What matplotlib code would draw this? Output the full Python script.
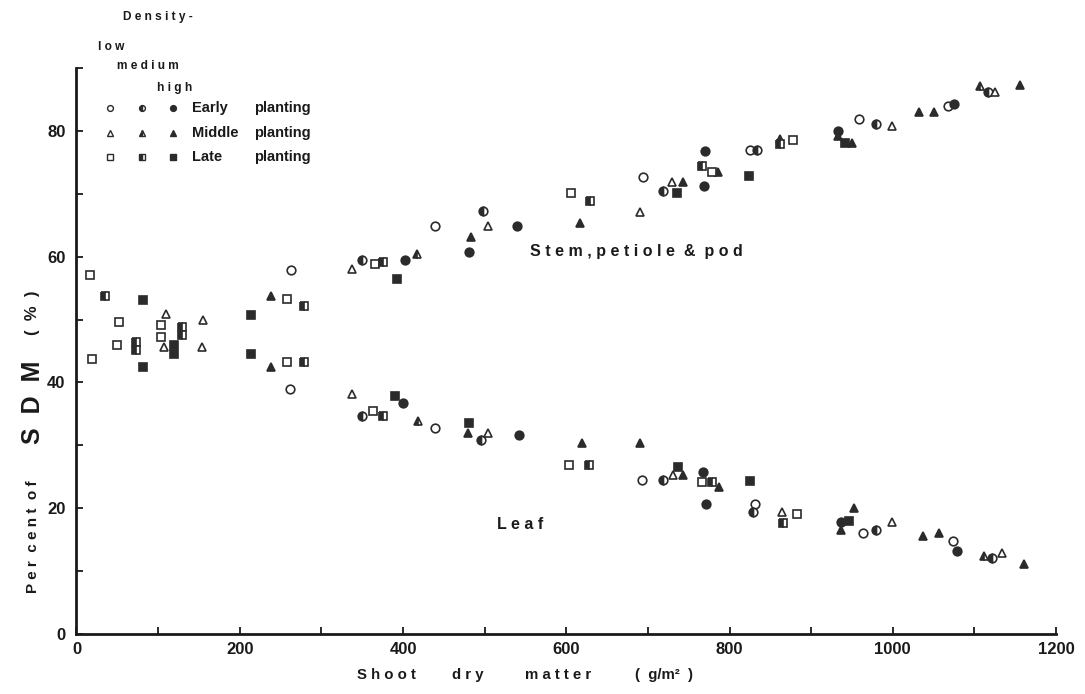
import matplotlib.pyplot as plt
from matplotlib.lines import Line2D

# ---- data (shoot dry matter g/m2, per cent of SDM) ----
early_low_x = [263, 439, 694, 825, 959, 1068, 262, 439, 693, 831, 964, 1074]
early_low_y = [57.8, 64.9, 72.7, 77.0, 81.9, 84.0, 39.0, 32.8, 24.5, 20.6, 16.1, 14.8]

early_med_x = [498, 350, 719, 834, 980, 1117, 350, 496, 719, 829, 980, 1122]
early_med_y = [67.3, 59.4, 70.4, 77.0, 81.1, 86.1, 34.7, 30.8, 24.5, 19.4, 16.6, 12.0]

early_high_x = [540, 481, 402, 770, 769, 933, 1075, 400, 542, 768, 771, 937, 1079]
early_high_y = [64.9, 60.7, 59.4, 76.8, 71.2, 80.0, 84.3, 36.7, 31.6, 25.8, 20.7, 17.8, 13.2]

middle_low_x = [110, 155, 338, 504, 690, 730, 999, 1125, 107, 154, 338, 504, 731, 864, 999, 1134]
middle_low_y = [50.8, 50.0, 58.0, 64.9, 67.1, 71.9, 80.8, 86.2, 45.6, 45.6, 38.2, 32.0, 25.3, 19.4, 17.8, 12.9]

middle_med_x = [417, 862, 1107, 418, 1112]
middle_med_y = [60.4, 78.7, 87.2, 33.9, 12.4]

middle_high_x = [238, 483, 617, 743, 786, 933, 950, 1032, 1051, 1156,
                 238, 480, 619, 690, 743, 787, 953, 937, 1037, 1057, 1161]
middle_high_y = [53.7, 63.1, 65.3, 71.9, 73.5, 79.2, 78.1, 83.0, 83.0, 87.3,
                 42.5, 31.9, 30.3, 30.3, 25.3, 23.4, 20.1, 16.6, 15.5, 16.1, 11.2]

late_low_x = [17, 52, 104, 50, 104, 19, 258, 258, 366, 606, 779, 878, 363, 603, 766, 883]
late_low_y = [57.1, 49.6, 49.1, 45.9, 47.2, 43.7, 53.2, 43.3, 58.8, 70.1, 73.5, 78.6, 35.5, 26.8, 24.2, 19.0]

late_med_x = [35, 73, 73, 129, 129, 279, 279, 376, 629, 766, 862, 376, 628, 779, 866]
late_med_y = [53.7, 46.5, 45.1, 48.8, 47.5, 52.1, 43.3, 59.1, 68.8, 74.4, 77.9, 34.6, 26.9, 24.1, 17.7]

late_high_x = [82, 82, 119, 119, 214, 214, 393, 736, 824, 942, 390, 481, 737, 825, 946]
late_high_y = [53.1, 42.5, 45.9, 44.5, 50.7, 44.5, 56.4, 70.1, 72.8, 78.1, 37.8, 33.6, 26.6, 24.4, 18.0]

DARK = '#2b2b2b'
BOLD = dict(fontweight='bold', color='#1a1a1a', family=['Liberation Sans', 'DejaVu Sans'])

# density -> marker fill
def estilo(marker, dens, ms):
    d = dict(marker=marker, linestyle='none', markersize=ms, markeredgecolor=DARK,
             markeredgewidth=1.2)
    if dens == 'low':
        d.update(markerfacecolor='white')
    elif dens == 'med':
        d.update(fillstyle='left', markerfacecolor=DARK, markerfacecoloralt='white')
    else:
        d.update(markerfacecolor=DARK)
    return d

series = [
    (early_low_x, early_low_y, 'o', 'low', 6.2),
    (early_med_x, early_med_y, 'o', 'med', 6.2),
    (early_high_x, early_high_y, 'o', 'high', 6.2),
    (middle_low_x, middle_low_y, '^', 'low', 5.8),
    (middle_med_x, middle_med_y, '^', 'med', 5.8),
    (middle_high_x, middle_high_y, '^', 'high', 5.8),
    (late_low_x, late_low_y, 's', 'low', 5.2),
    (late_med_x, late_med_y, 's', 'med', 5.2),
    (late_high_x, late_high_y, 's', 'high', 5.2),
]

fig = plt.figure(figsize=(10.85, 6.94), dpi=100)
ax = fig.add_axes([0.0705, 0.0865, 0.9028, 0.8156])

for xs, ys, mk, dens, ms in series:
    ax.plot(xs, ys, **estilo(mk, dens, ms))

ax.set_xlim(0, 1200)
ax.set_ylim(0, 90)
for s in ['top', 'right']:
    ax.spines[s].set_visible(False)
for s in ['left', 'bottom']:
    ax.spines[s].set_linewidth(2.0)
    ax.spines[s].set_color('#1a1a1a')

ax.set_xticks(range(0, 1201, 200))
ax.set_xticks(range(100, 1201, 200), minor=True)
ax.set_yticks(range(0, 81, 20))
ax.set_yticks(range(10, 91, 20), minor=True)
ax.tick_params(which='both', direction='in', length=5, width=1.3, color='#1a1a1a')
ax.tick_params(axis='x', pad=6)
ax.tick_params(axis='y', pad=8)
for lab in ax.get_xticklabels() + ax.get_yticklabels():
    lab.set_fontsize(12)
    lab.set_fontweight('bold')
    lab.set_family(['Liberation Sans Narrow', 'Liberation Sans', 'DejaVu Sans'])
    lab.set_color('#1a1a1a')

# curve labels
ax.text(0.463, 0.676, 'S t e m , p e t i o l e  &  p o d', transform=ax.transAxes,
        fontsize=11.5, ha='left', va='center', **BOLD)
ax.text(0.429, 0.194, 'L e a f', transform=ax.transAxes,
        fontsize=11.5, ha='left', va='center', **BOLD)

# x title, word by word as in the original
for xx, w in [(0.329, 'S h o o t'), (0.417, 'd r y'), (0.484, 'm a t t e r'),
              (0.585, '(  g/m²  )')]:
    fig.text(xx, 0.027, w, ha='left', va='center', fontsize=10.8, **BOLD)

# y title
fig.text(0.030, 0.226, 'P e r  c e n t  o f', rotation=90, ha='center', va='center',
         fontsize=11, **BOLD)
fig.text(0.030, 0.420, 'S  D  M', rotation=90, ha='center', va='center',
         fontsize=18, **BOLD)
fig.text(0.030, 0.550, '(  %  )', rotation=90, ha='center', va='center',
         fontsize=12, **BOLD)

# hand-made key: density columns x planting rows
fig.text(0.113, 0.975, 'D e n s i t y -', ha='left', va='center', fontsize=8.6, **BOLD)
fig.text(0.090, 0.932, 'l o w', ha='left', va='center', fontsize=8.6, **BOLD)
fig.text(0.108, 0.905, 'm e d i u m', ha='left', va='center', fontsize=8.6, **BOLD)
fig.text(0.145, 0.873, 'h i g h', ha='left', va='center', fontsize=8.6, **BOLD)

col_x = [0.101, 0.131, 0.159]
row_y = [0.844, 0.808, 0.774]
row_mk = ['o', '^', 's']
row_lab = ['Early', 'Middle', 'Late']
for yy, mk, w1 in zip(row_y, row_mk, row_lab):
    for c, dens in enumerate(['low', 'med', 'high']):
        st = estilo(mk, dens, 4.2)
        st['markeredgewidth'] = 1.0
        fig.add_artist(Line2D([col_x[c]], [yy], transform=fig.transFigure, **st))
    fig.text(0.177, yy, w1, ha='left', va='center', fontsize=10.5, **BOLD)
    fig.text(0.234, yy, 'planting', ha='left', va='center', fontsize=10.5, **BOLD)

fig.savefig('out.png', dpi=100)
